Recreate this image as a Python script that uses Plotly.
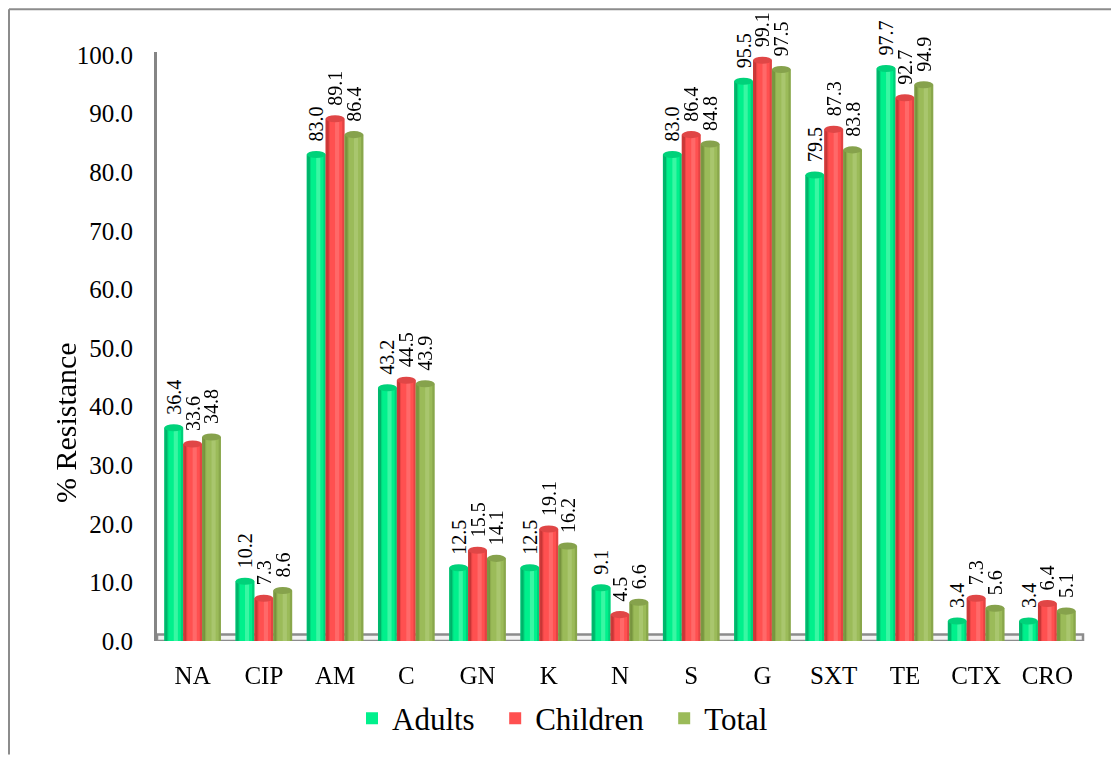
import plotly.graph_objects as go

categories = ["NA", "CIP", "AM", "C", "GN", "K", "N", "S", "G", "SXT", "TE", "CTX", "CRO"]
adults = [36.4, 10.2, 83.0, 43.2, 12.5, 12.5, 9.1, 83.0, 95.5, 79.5, 97.7, 3.4, 3.4]
children = [33.6, 7.3, 89.1, 44.5, 15.5, 19.1, 4.5, 86.4, 99.1, 87.3, 92.7, 7.3, 6.4]
total = [34.8, 8.6, 86.4, 43.9, 14.1, 16.2, 6.6, 84.8, 97.5, 83.8, 94.9, 5.6, 5.1]
y_ticks = [0, 10, 20, 30, 40, 50, 60, 70, 80, 90, 100]
legend_names = ["Adults", "Children", "Total"]

colors = ["#00F08C", "#FF5050", "#9BBB59"]
darks = ["#00A060", "#B83030", "#6E8A38"]
lights = ["#7FFFC0", "#FF8A8A", "#BBD58A"]
tops = ["#00D27A", "#E04646", "#86A24C"]
pads = ["\u00a0\u00a0", "\u00a0\u00a0", ""]

# plot area geometry (pixels, figure coords; page has 8px body margin)
W, H = 1111, 750
L, R, T, B = 149, 1075, 44, 636

def px(xp):
    return (xp - L) / (R - L)

def py(yp):
    return (B - yp) / (B - T)

bw = 0.265
offsets = [-0.3975, -0.1325, 0.1325]
font = "Liberation Serif, Times New Roman, serif"

fig = go.Figure()
shapes = []
data = [adults, children, total]
for k, (name, vals, off) in enumerate(zip(legend_names, data, offsets)):
    fig.add_trace(go.Bar(
        x=categories, y=vals, name=name + pads[k], offset=off, width=bw,
        marker=dict(color=colors[k], line=dict(width=0)),
        texttemplate="\u00a0\u00a0%{y:.1f}", textposition="outside",
        textangle=-90, constraintext="none", cliponaxis=False,
        textfont=dict(family=font, size=20, color="black"),
        hoverinfo="skip",
    ))
    # cylinder shading stripes
    for so, sw, sc, op in [(0.0, 0.16, darks[k], 0.7), (0.10, 0.12, darks[k], 0.3),
                           (0.50, 0.22, lights[k], 0.45), (0.88, 0.12, darks[k], 0.4)]:
        fig.add_trace(go.Bar(
            x=categories, y=vals, offset=off + so * bw, width=sw * bw,
            marker=dict(color=sc, line=dict(width=0)), opacity=op,
            showlegend=False, hoverinfo="skip",
        ))
    # cylinder tops
    for i, v in enumerate(vals):
        shapes.append(dict(type="circle", xref="x", yref="y",
                           x0=i + off, x1=i + off + bw, y0=v - 0.6, y1=v + 0.6,
                           fillcolor=tops[k], line=dict(width=0), layer="above"))

shapes += [
    # outer frame (left and top)
    dict(type="line", xref="paper", yref="paper", x0=px(1), x1=px(W), y0=py(1), y1=py(1),
         line=dict(color="#8C8C8C", width=2)),
    dict(type="line", xref="paper", yref="paper", x0=px(1), x1=px(1), y0=py(1), y1=py(H),
         line=dict(color="#8C8C8C", width=2)),
    # floor
    dict(type="rect", xref="paper", yref="y", x0=0, x1=1, y0=0, y1=1.1,
         line=dict(color="#8C8C8C", width=2.5), fillcolor="#F2F2F2", layer="below"),
]

fig.update_layout(
    width=W, height=H,
    margin=dict(l=L, r=W - R, t=T, b=H - B),
    paper_bgcolor="white", plot_bgcolor="white",
    font=dict(family=font, color="black"),
    barmode="overlay",
    showlegend=True,
    legend=dict(orientation="h", x=px(344), xanchor="left", y=py(714), yanchor="middle",
                font=dict(family=font, size=31, color="black"), traceorder="normal",
                itemwidth=30),
    xaxis=dict(showgrid=False, showline=False, ticks="", zeroline=False,
               tickfont=dict(family=font, size=25, color="black"), ticklabelstandoff=17,
               fixedrange=True),
    yaxis=dict(range=[0, 100.5], tickvals=y_ticks, ticktext=[f"{v:.1f}" for v in y_ticks],
               showgrid=False, zeroline=False, showline=True, linecolor="#858585", linewidth=3,
               ticks="", tickfont=dict(family=font, size=25, color="black"), ticklabelstandoff=16,
               fixedrange=True),
    shapes=shapes,
    annotations=[dict(text="% Resistance", xref="paper", yref="paper", x=px(57), y=py(417),
                      xanchor="center", yanchor="middle",
                      showarrow=False, textangle=-90,
                      font=dict(family=font, size=30, color="black"))],
)

fig.write_html("out.html")
